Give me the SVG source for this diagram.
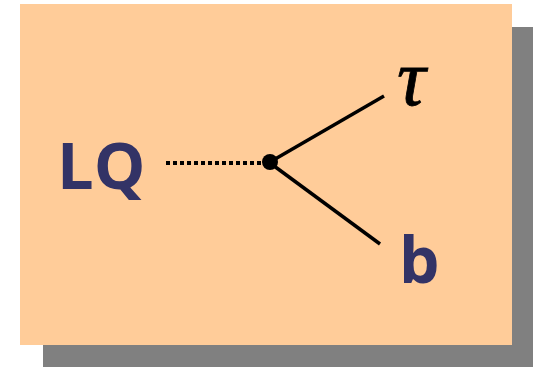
<svg xmlns="http://www.w3.org/2000/svg" width="533" height="367" viewBox="0 0 533 367">
<style>
.lbl{font-family:"Open Sans","DejaVu Sans",sans-serif;font-weight:bold;fill:#333366}
.ln{stroke:#000;stroke-width:3.5;fill:none}
</style>
<rect x="43" y="27" width="490" height="340" fill="#808080"/>
<rect x="20" y="4" width="492" height="341" fill="#FFCC99"/>
<g id="connectors">
<line x1="166" y1="163" x2="264" y2="163" stroke="#000" stroke-width="4" stroke-dasharray="4 3"/>
<line class="ln" x1="270" y1="162" x2="384" y2="96"/>
<line class="ln" x1="270" y1="163" x2="380" y2="244"/>
</g>
<g id="vertex"><circle cx="270" cy="162" r="8" fill="#000"/></g>
<g id="LQ"><text class="lbl" x="57" y="189" font-size="65">LQ</text></g>
<g id="tau"><text x="397" y="105" font-family="Liberation Serif,serif" font-style="italic" font-size="80" fill="#000" stroke="#000" stroke-width="0.8">τ</text></g>
<g id="b"><text class="lbl" x="399" y="283" font-size="64">b</text></g>
</svg>
